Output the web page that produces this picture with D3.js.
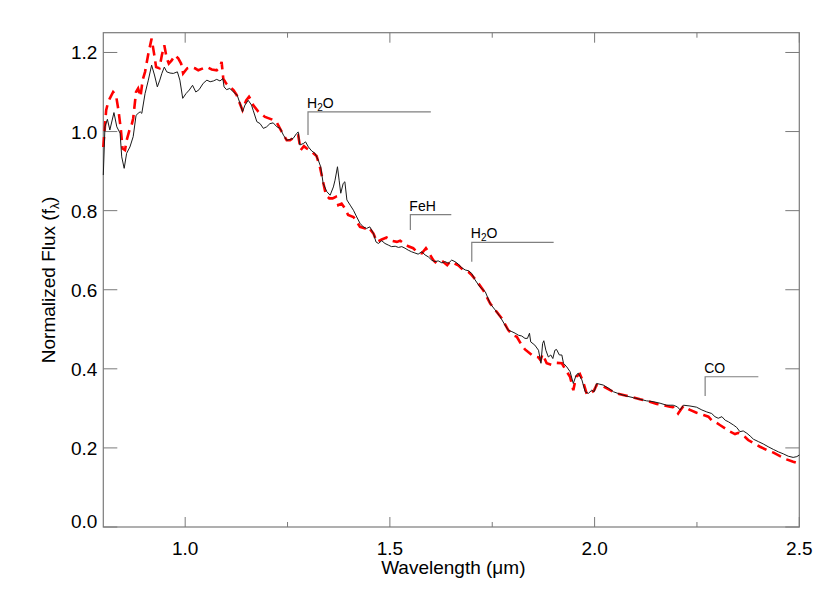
<!DOCTYPE html>
<html>
<head>
<meta charset="utf-8">
<script src="https://cdn.jsdelivr.net/npm/d3@7"></script>
<style>
  body { margin: 0; background: #fff; }
  svg text { font-family: "Liberation Sans", Arial, Helvetica, sans-serif; }
</style>
</head>
<body>
<div id="chart"></div>
<script>
var width = 830;
var height = 593;

// observed spectrum (black)
var obsWave = [0.800,0.804,0.810,0.816,0.826,0.833,0.841,0.845,0.851,0.857,0.865,0.873,0.880,0.885,0.890,0.894,0.902,0.910,0.918,0.925,
  0.932,0.938,0.943,0.949,0.955,0.963,0.971,0.981,0.987,0.994,1.002,1.010,1.018,1.026,1.034,1.044,1.053,1.061,1.069,1.077,
  1.085,1.092,1.095,1.101,1.109,1.118,1.127,1.134,1.140,1.146,1.154,1.162,1.166,1.175,1.183,1.191,1.199,1.207,1.215,1.224,
  1.232,1.240,1.248,1.256,1.264,1.272,1.276,1.280,1.289,1.294,1.301,1.309,1.317,1.325,1.331,1.337,1.346,1.354,1.362,1.366,
  1.372,1.376,1.380,1.386,1.390,1.395,1.403,1.411,1.419,1.427,1.435,1.443,1.451,1.460,1.466,1.472,1.480,1.488,1.496,1.504,
  1.513,1.521,1.529,1.537,1.545,1.553,1.561,1.569,1.578,1.586,1.594,1.602,1.610,1.618,1.627,1.635,1.643,1.651,1.659,1.667,
  1.675,1.684,1.692,1.700,1.708,1.720,1.733,1.745,1.757,1.769,1.781,1.789,1.798,1.806,1.814,1.822,1.830,1.836,1.841,1.844,
  1.854,1.863,1.869,1.873,1.876,1.881,1.887,1.893,1.898,1.903,1.907,1.914,1.920,1.924,1.932,1.940,1.948,1.955,1.960,1.969,
  1.977,1.985,1.993,1.999,2.005,2.013,2.021,2.034,2.046,2.062,2.078,2.095,2.111,2.127,2.143,2.160,2.176,2.192,2.202,2.209,
  2.217,2.233,2.249,2.262,2.274,2.286,2.294,2.302,2.311,2.319,2.327,2.339,2.347,2.355,2.363,2.372,2.380,2.388,2.400,2.412,
  2.424,2.437,2.449,2.461,2.473,2.485,2.494,2.500];
var obsFlux = [0.890,1.012,1.031,1.004,1.048,1.012,0.996,0.936,0.907,0.945,0.961,0.987,1.041,1.046,1.050,1.046,1.096,1.130,1.168,1.143,
  1.113,1.130,1.147,1.163,1.151,1.148,1.147,1.151,1.130,1.084,1.096,1.105,1.117,1.100,1.106,1.122,1.130,1.126,1.128,1.132,
  1.128,1.134,1.113,1.106,1.109,1.100,1.092,1.071,1.050,1.067,1.079,1.067,1.054,1.025,1.020,1.008,1.012,1.020,1.022,1.012,
  1.008,0.991,0.978,0.980,0.983,0.995,0.999,0.966,0.970,0.974,0.961,0.951,0.945,0.928,0.911,0.869,0.848,0.839,0.860,0.877,
  0.911,0.877,0.844,0.869,0.873,0.827,0.814,0.801,0.784,0.768,0.759,0.755,0.759,0.742,0.721,0.717,0.724,0.717,0.713,0.709,
  0.710,0.707,0.709,0.705,0.700,0.696,0.693,0.690,0.696,0.688,0.683,0.675,0.671,0.673,0.668,0.671,0.667,0.675,0.671,0.665,
  0.656,0.650,0.648,0.641,0.625,0.607,0.595,0.565,0.549,0.532,0.511,0.498,0.494,0.490,0.485,0.483,0.477,0.477,0.490,0.468,
  0.460,0.447,0.414,0.464,0.471,0.447,0.430,0.435,0.426,0.447,0.449,0.435,0.435,0.414,0.405,0.393,0.363,0.384,0.389,0.372,
  0.342,0.338,0.346,0.342,0.363,0.361,0.359,0.351,0.342,0.336,0.331,0.327,0.323,0.319,0.317,0.313,0.308,0.308,0.304,0.296,
  0.308,0.306,0.303,0.296,0.291,0.287,0.279,0.275,0.279,0.270,0.266,0.258,0.252,0.241,0.243,0.237,0.230,0.222,0.216,0.210,
  0.203,0.196,0.190,0.185,0.179,0.176,0.178,0.182];

// model spectrum (red dashed)
var modelWave = [0.800,0.807,0.812,0.816,0.824,0.831,0.837,0.843,0.847,0.853,0.857,0.864,0.869,0.873,0.880,0.885,0.891,0.896,0.902,0.910,
  0.918,0.924,0.929,0.937,0.943,0.949,0.955,0.960,0.967,0.975,0.983,0.990,0.995,1.005,1.016,1.024,1.032,1.044,1.053,1.065,
  1.077,1.085,1.089,1.093,1.100,1.109,1.118,1.126,1.132,1.140,1.149,1.156,1.162,1.166,1.179,1.195,1.211,1.224,1.236,1.248,
  1.256,1.268,1.276,1.282,1.290,1.297,1.309,1.321,1.329,1.336,1.344,1.352,1.360,1.368,1.374,1.382,1.390,1.398,1.411,1.419,
  1.427,1.439,1.447,1.460,1.468,1.480,1.492,1.504,1.517,1.525,1.534,1.545,1.557,1.566,1.578,1.588,1.596,1.606,1.614,1.622,
  1.630,1.640,1.647,1.655,1.667,1.679,1.692,1.700,1.712,1.728,1.745,1.773,1.789,1.801,1.810,1.822,1.830,1.850,1.863,1.868,
  1.873,1.883,1.895,1.907,1.920,1.932,1.940,1.948,1.955,1.964,1.972,1.981,1.991,1.999,2.005,2.021,2.038,2.054,2.070,2.091,
  2.111,2.135,2.152,2.168,2.184,2.192,2.204,2.210,2.217,2.233,2.249,2.266,2.278,2.286,2.294,2.306,2.319,2.331,2.343,2.351,
  2.359,2.367,2.375,2.388,2.404,2.420,2.437,2.453,2.469,2.485,2.498];
var modelFlux = [0.961,1.054,1.075,1.084,1.100,1.092,1.054,1.004,0.957,0.953,0.978,1.004,1.016,1.033,1.100,1.109,1.088,1.130,1.151,1.197,
  1.235,1.197,1.163,1.160,1.193,1.218,1.185,1.172,1.180,1.193,1.185,1.172,1.147,1.160,1.163,1.160,1.155,1.160,1.163,1.157,
  1.155,1.163,1.176,1.134,1.122,1.113,1.105,1.092,1.075,1.054,1.079,1.088,1.079,1.067,1.050,1.037,1.031,1.022,0.999,0.978,
  0.978,0.987,0.991,0.953,0.963,0.957,0.949,0.938,0.911,0.877,0.839,0.831,0.831,0.835,0.814,0.818,0.806,0.789,0.784,0.772,
  0.759,0.755,0.759,0.742,0.721,0.727,0.732,0.724,0.721,0.724,0.717,0.710,0.705,0.696,0.692,0.705,0.692,0.675,0.667,0.668,
  0.671,0.662,0.671,0.668,0.662,0.650,0.645,0.637,0.622,0.599,0.565,0.528,0.498,0.485,0.481,0.460,0.449,0.432,0.429,0.422,
  0.437,0.414,0.410,0.415,0.414,0.393,0.380,0.346,0.380,0.387,0.367,0.336,0.338,0.346,0.359,0.356,0.346,0.338,0.334,0.329,
  0.323,0.317,0.311,0.308,0.304,0.303,0.287,0.296,0.306,0.296,0.289,0.283,0.279,0.270,0.266,0.258,0.249,0.241,0.235,0.238,
  0.233,0.228,0.220,0.212,0.203,0.195,0.188,0.179,0.171,0.165,0.161];

// absorption band markers
var bandNames = ["H2O", "FeH", "H2O", "CO"];
var bandStart = [1.30, 1.55, 1.70, 2.27];
var bandEnd = [1.60, 1.65, 1.90, 2.40];
var bandTop = [1.050, 0.790, 0.720, 0.380];
var bandBottom = [0.991, 0.751, 0.671, 0.331];

var xMajor = [1.0, 1.5, 2.0, 2.5];
var xMinor = [1.25, 1.75, 2.25];
var yTicks = [0.0, 0.2, 0.4, 0.6, 0.8, 1.0, 1.2];

var margin = {left: 103.3, right: 30.7, top: 32.7, bottom: 66};
var w = width - margin.left - margin.right;
var h = height - margin.top - margin.bottom;

var svg = d3.select("#chart")
    .append("svg")
    .attr("width", width)
    .attr("height", height);

var g = svg.append("g")
    .attr("transform", "translate(" + margin.left + "," + margin.top + ")");

var x = d3.scaleLinear().domain([0.8, 2.5]).range([0, w]);
var y = d3.scaleLinear().domain([0, 1.25]).range([h, 0]);

var axisColor = "#7a7a7a";

// frame
g.append("rect")
    .attr("width", w).attr("height", h)
    .style("fill", "none")
    .style("stroke", axisColor)
    .style("stroke-width", 1.2);

// x ticks (bottom and top, pointing inward)
xMajor.concat(xMinor).forEach(function(v) {
    var len = xMajor.indexOf(v) >= 0 ? 10 : 5;
    g.append("line").attr("x1", x(v)).attr("x2", x(v)).attr("y1", h).attr("y2", h - len)
        .style("stroke", axisColor);
    g.append("line").attr("x1", x(v)).attr("x2", x(v)).attr("y1", 0).attr("y2", len)
        .style("stroke", axisColor);
});
xMajor.forEach(function(v) {
    g.append("text")
        .attr("x", x(v)).attr("y", h + 28)
        .attr("text-anchor", "middle")
        .style("font-size", "19px")
        .text(v.toFixed(1));
});

// y ticks (left and right)
yTicks.forEach(function(v) {
    g.append("line").attr("x1", 0).attr("x2", 14).attr("y1", y(v)).attr("y2", y(v))
        .style("stroke", axisColor);
    g.append("line").attr("x1", w).attr("x2", w - 14).attr("y1", y(v)).attr("y2", y(v))
        .style("stroke", axisColor);
    g.append("text")
        .attr("x", -6).attr("y", y(v) + (v === 0 ? 1 : 7))
        .attr("text-anchor", "end")
        .style("font-size", "19px")
        .text(v.toFixed(1));
});

// axis titles
var xt = svg.append("text")
    .attr("x", margin.left + w / 2 + 2).attr("y", 574)
    .attr("text-anchor", "middle")
    .style("font-size", "19px");
xt.append("tspan").text("Wavelength (\u03bcm)");

var yt = svg.append("text")
    .attr("transform", "translate(55,280) rotate(-90)")
    .attr("text-anchor", "middle")
    .style("font-size", "19px");
yt.append("tspan").text("Normalized Flux (f");
yt.append("tspan").attr("dy", 4).style("font-size", "12px").text("\u03bb");
yt.append("tspan").attr("dy", -4).text(")");

// spectra
var line = d3.line()
    .x(function(d) { return x(d[0]); })
    .y(function(d) { return y(d[1]); });

var obs = obsWave.map(function(v, i) { return [v, obsFlux[i]]; });
var model = modelWave.map(function(v, i) { return [v, modelFlux[i]]; });

g.append("path")
    .datum(model)
    .attr("d", line)
    .style("fill", "none")
    .style("stroke", "#ff0000")
    .style("stroke-width", 2.6)
    .style("stroke-dasharray", "10,6");

g.append("path")
    .datum(obs)
    .attr("d", line)
    .style("fill", "none")
    .style("stroke", "#1a1a1a")
    .style("stroke-width", 1);

// band markers
bandNames.forEach(function(name, i) {
    g.append("path")
        .attr("d", "M" + x(bandStart[i]) + "," + y(bandBottom[i]) +
                   "V" + y(bandTop[i]) + "H" + x(bandEnd[i]))
        .style("fill", "none")
        .style("stroke", "#808080")
        .style("stroke-width", 1.2);
    var t = g.append("text")
        .attr("x", x(bandStart[i]) - 1)
        .attr("y", y(bandTop[i]) - 4)
        .style("font-size", "14px");
    if (name === "H2O") {
        t.append("tspan").text("H");
        t.append("tspan").attr("dy", 3).style("font-size", "10px").text("2");
        t.append("tspan").attr("dy", -3).text("O");
    } else {
        t.text(name);
    }
});
</script>
</body>
</html>
